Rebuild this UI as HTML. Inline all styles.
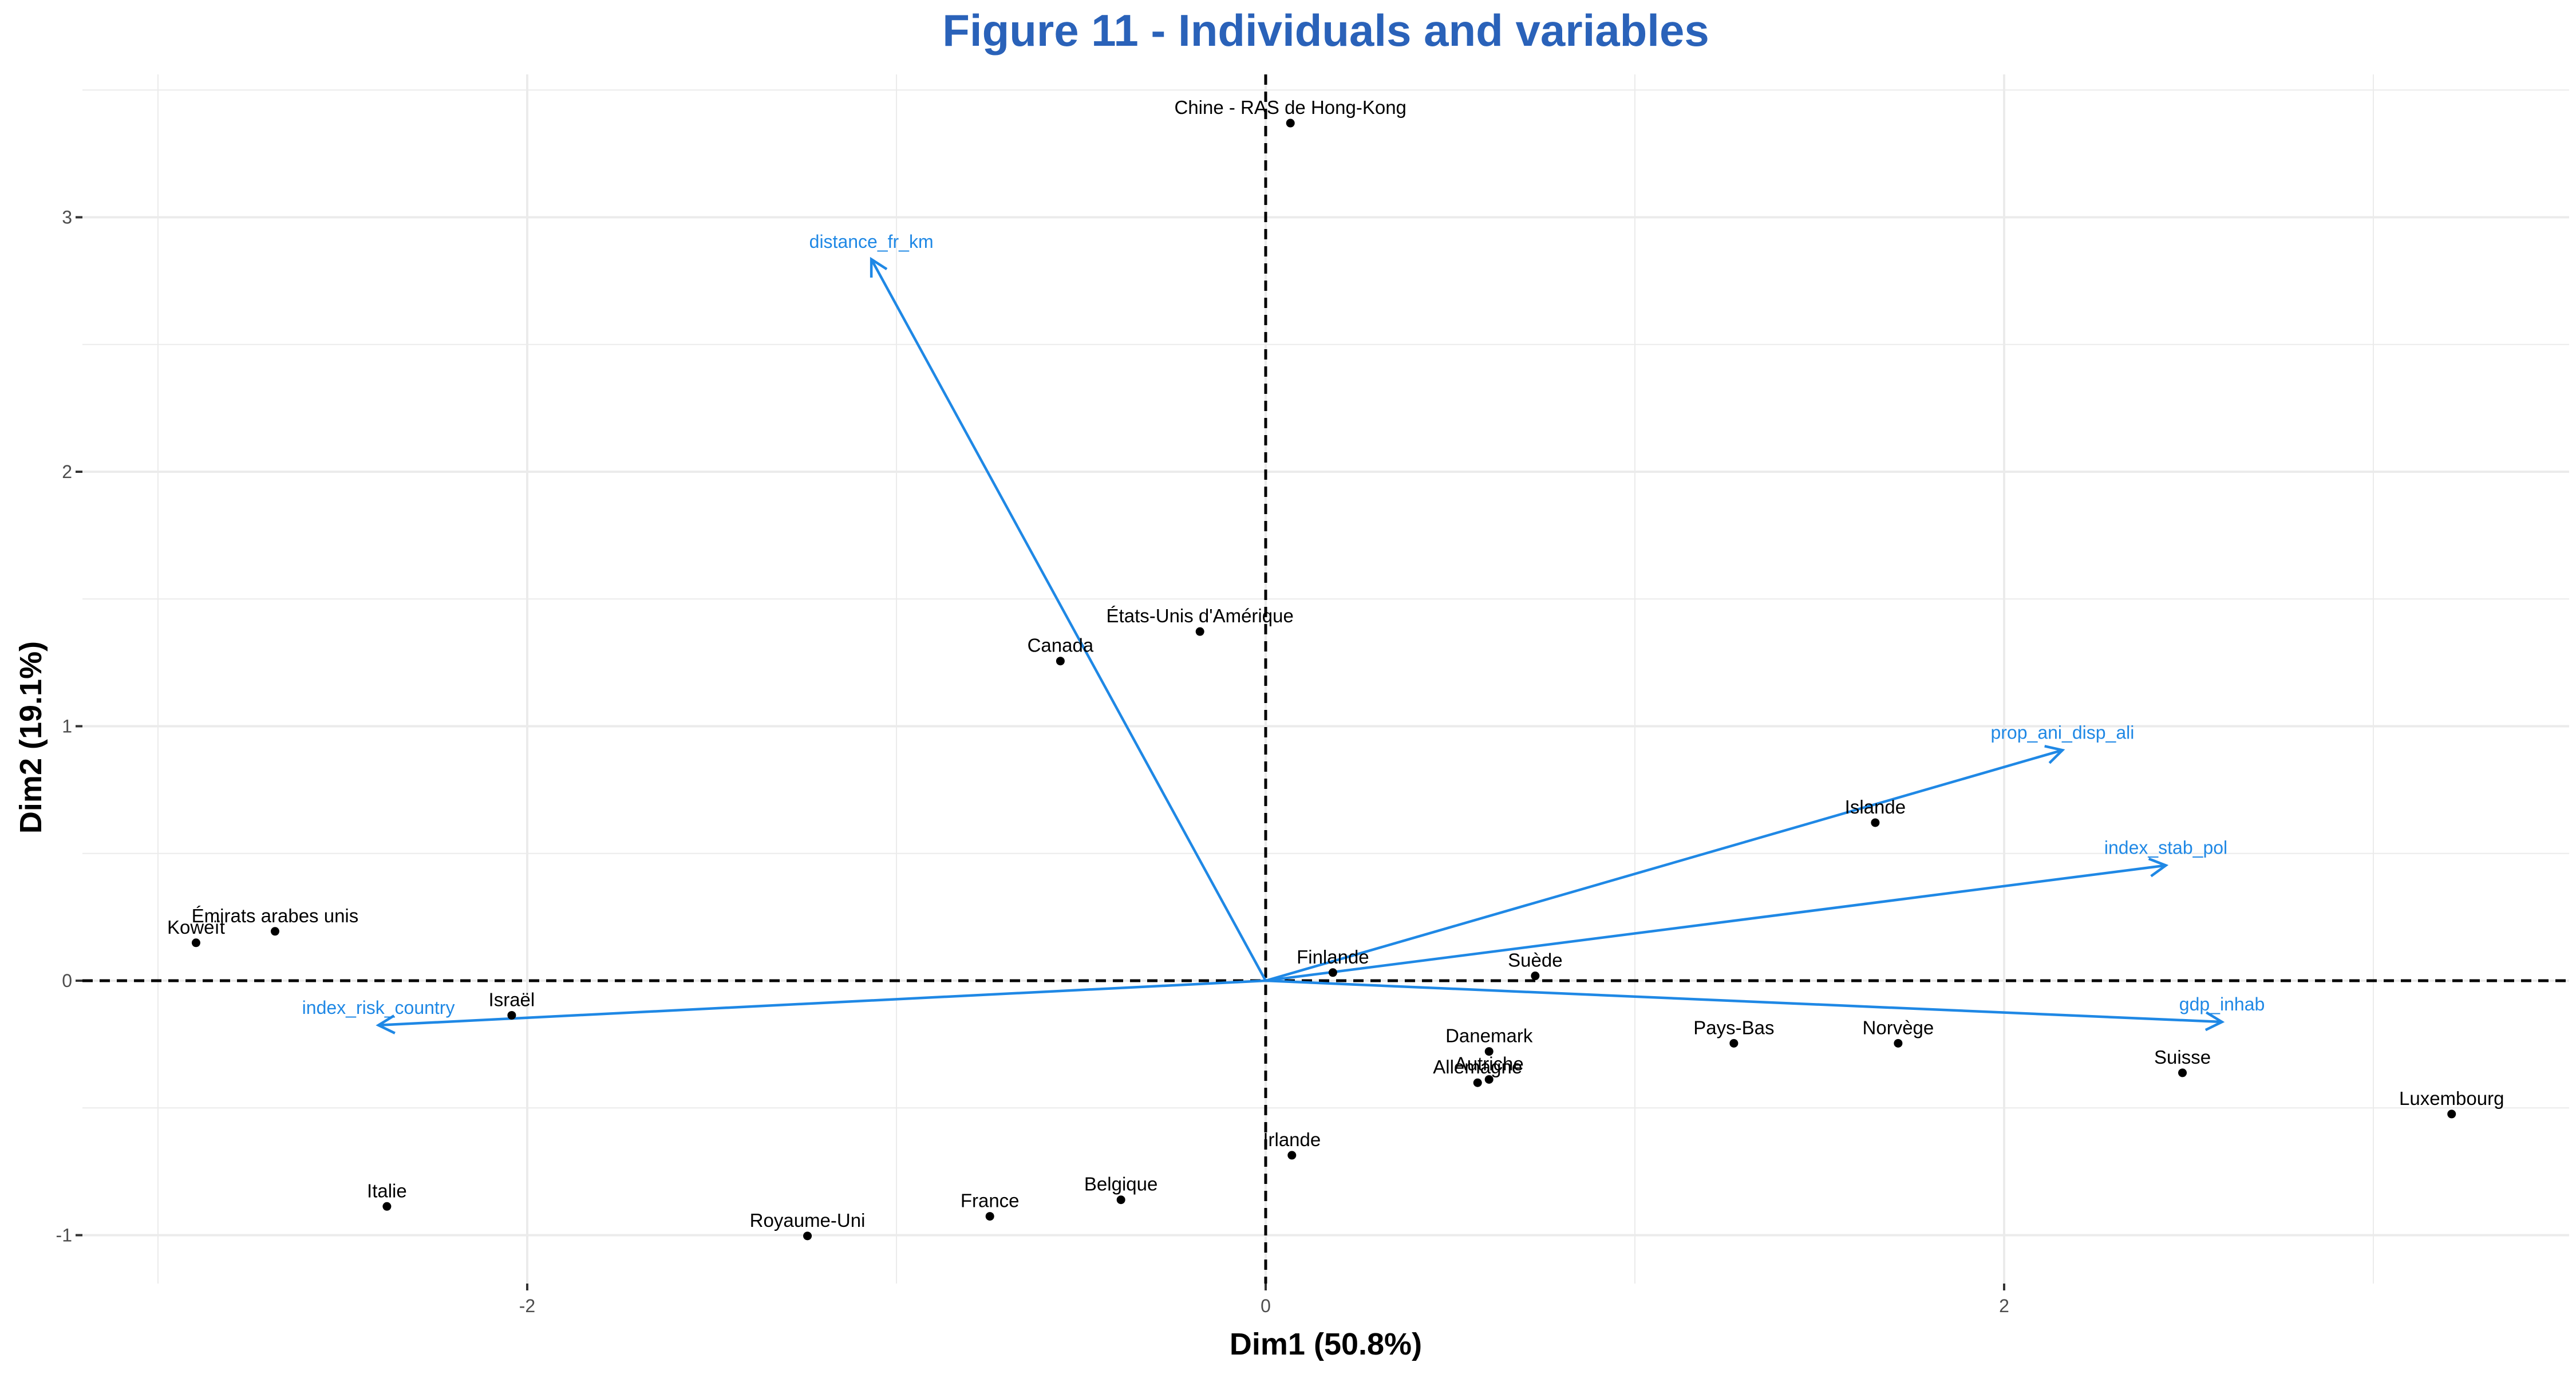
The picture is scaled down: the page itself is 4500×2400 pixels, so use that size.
<!DOCTYPE html>
<html><head><meta charset="utf-8"><style>
html,body{margin:0;padding:0;background:#fff;}
svg{display:block;font-family:"Liberation Sans",sans-serif;}
</style></head><body>
<svg id="chart" width="4500" height="2400" viewBox="0 0 4500 2400">
<g id="grid"></g>
<g id="axes"></g>
<g id="arrows"></g>
<g id="points"></g>
<text x="2316" y="80" text-anchor="middle" font-size="78" font-weight="bold" fill="#2a62b9">Figure 11 - Individuals and variables</text>
<text x="2316" y="2366" text-anchor="middle" font-size="54" font-weight="bold" fill="#000">Dim1 (50.8%)</text>
<text transform="translate(72,1288) rotate(-90)" text-anchor="middle" font-size="54" font-weight="bold" fill="#000">Dim2 (19.1%)</text>
</svg>
<script>
const indNames=["Chine - RAS de Hong-Kong","Canada","États-Unis d'Amérique","Émirats arabes unis","Koweït","Israël","Italie","Royaume-Uni","France","Belgique","Irlande","Finlande","Suède","Danemark","Autriche","Allemagne","Pays-Bas","Norvège","Islande","Suisse","Luxembourg"];
const indX=[0.067,-0.556,-0.178,-2.683,-2.897,-2.042,-2.38,-1.241,-0.747,-0.392,0.071,0.182,0.73,0.605,0.605,0.574,1.268,1.713,1.651,2.483,3.212];
const indY=[3.37,1.256,1.372,0.194,0.149,-0.136,-0.887,-1.003,-0.926,-0.861,-0.686,0.032,0.019,-0.278,-0.388,-0.401,-0.246,-0.246,0.621,-0.362,-0.524];
const varNames=["distance_fr_km","prop_ani_disp_ali","index_stab_pol","gdp_inhab","index_risk_country"];
const varX=[-1.068,2.158,2.438,2.59,-2.403];
const varY=[2.835,0.906,0.453,-0.162,-0.175];
const xTicks=[-2,0,2];
const yTicks=[-1,0,1,2,3];

const NS="http://www.w3.org/2000/svg";
const X0=2211,UX=645,Y0=1713,UY=444.5;
const L=144,R=4488,T=130,B=2242;
const sx=v=>X0+v*UX, sy=v=>Y0-v*UY;
function mk(tag,attrs,parent){const e=document.createElementNS(NS,tag);for(const k in attrs)e.setAttribute(k,attrs[k]);parent.appendChild(e);return e;}
const grid=document.getElementById('grid'),axes=document.getElementById('axes'),arrows=document.getElementById('arrows'),points=document.getElementById('points');

for(let v=-4;v<=4;v+=1){const x=sx(v);if(x<L||x>R)continue;
const ln=mk('line',{x1:x,x2:x,y1:T,y2:B,stroke:'#ebebeb','stroke-width':(v%2===0)?4:2},grid);

}
for(let v=-1.5;v<=3.5;v+=0.5){const y=sy(v);if(y<T||y>B)continue;
const ln=mk('line',{x1:L,x2:R,y1:y,y2:y,stroke:'#ebebeb','stroke-width':Number.isInteger(v)?4:2},grid);

}

xTicks.forEach(v=>{const x=sx(v);
const tk=mk('line',{x1:x,x2:x,y1:B,y2:B+12,stroke:'#333','stroke-width':4},axes);


const t=mk('text',{x:x,y:B+50,'text-anchor':'middle','font-size':32,fill:'#4d4d4d'},axes);t.textContent=v;

});
yTicks.forEach(v=>{const y=sy(v);
const tk=mk('line',{x1:L-12,x2:L,y1:y,y2:y,stroke:'#333','stroke-width':4},axes);


const t=mk('text',{x:L-18,y:y+11,'text-anchor':'end','font-size':32,fill:'#4d4d4d'},axes);t.textContent=v;

});

const hz=mk('line',{x1:L,x2:R,y1:sy(0),y2:sy(0),stroke:'#000','stroke-width':5,'stroke-dasharray':'18 12'},axes);


const vz=mk('line',{x1:sx(0),x2:sx(0),y1:T,y2:B,stroke:'#000','stroke-width':5,'stroke-dasharray':'18 12'},axes);



const blue='#1f88e5';
varNames.forEach((n,i)=>{const x1=sx(0),y1=sy(0),x2=sx(varX[i]),y2=sy(varY[i]);
const g=mk('g',{},arrows);


mk('line',{x1:x1,y1:y1,x2:x2,y2:y2,stroke:blue,'stroke-width':4.5},g);
const a=Math.atan2(y2-y1,x2-x1),h=32,sp=0.5;
mk('polyline',{points:`${x2-h*Math.cos(a-sp)},${y2-h*Math.sin(a-sp)} ${x2},${y2} ${x2-h*Math.cos(a+sp)},${y2-h*Math.sin(a+sp)}`,fill:'none',stroke:blue,'stroke-width':4.5},g);
const t=mk('text',{x:x2,y:y2-20,'text-anchor':'middle','font-size':32,fill:blue},g);t.textContent=n;

});

indNames.forEach((n,i)=>{const x=sx(indX[i]),y=sy(indY[i]);
const c=mk('circle',{cx:x,cy:y,r:7.5,fill:'#000'},points);


const t=mk('text',{x:x,y:y-16,'text-anchor':'middle','font-size':33,fill:'#000'},points);t.textContent=n;

});
</script>
</body></html>
